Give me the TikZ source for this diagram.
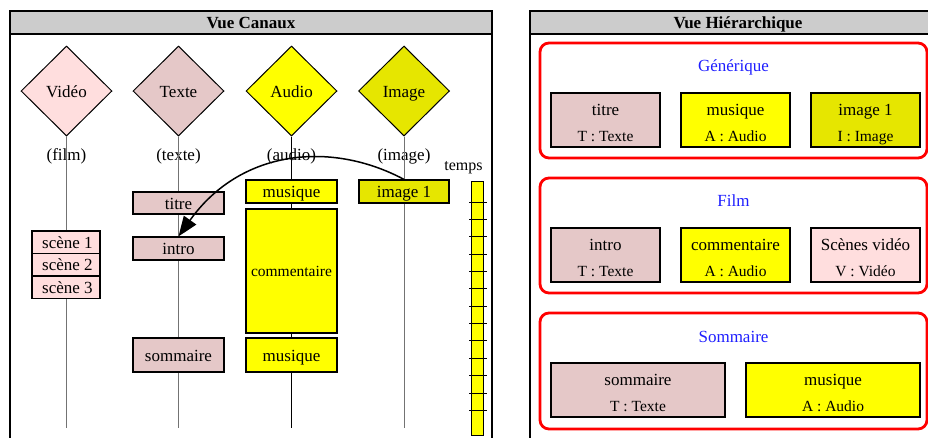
\documentclass[tikz,border=0pt]{standalone}
\usepackage{fontspec}
\setmainfont{Liberation Serif}
\usetikzlibrary{shapes.geometric,arrows.meta}
\definecolor{vidc}{RGB}{255,222,222}
\definecolor{txtc}{RGB}{229,200,200}
\definecolor{audc}{RGB}{255,255,0}
\definecolor{imgc}{RGB}{230,230,0}
\definecolor{hdrc}{RGB}{204,204,204}
\definecolor{linec}{RGB}{115,115,115}
\definecolor{titc}{RGB}{30,30,255}
\begin{document}
\begin{tikzpicture}[x=1pt,y=-1pt,
  font=\fontsize{17}{20}\selectfont,
  every node/.style={text height=14pt, text depth=2pt},
  chan/.style={diamond, draw=black, line width=1pt, inner sep=0pt, minimum width=91pt, minimum height=90pt},
  box/.style={rectangle, draw=black, line width=1.2pt, inner sep=0pt},
  lbox/.style={box, minimum width=91pt, minimum height=23pt},
  hbox/.style={box, minimum width=109pt, minimum height=54pt},
  wbox/.style={box, minimum width=174pt, minimum height=54pt},
  chanline/.style={draw=linec, line width=0.9pt},
  panel/.style={draw=black, line width=1.3pt},
  header/.style={fill=hdrc, draw=black, line width=1.3pt},
  redbox/.style={draw=red, line width=2.8pt, rounded corners=9pt},
  grp/.style={text=titc},
  small/.style={font=\fontsize{15.5}{18}\selectfont, text height=12.7pt, text depth=1.8pt},
  tick/.style={draw=black, line width=0.8pt}
]
\useasboundingbox (0,0) rectangle (928,437);
\clip (0,0) rectangle (928,437);

% ---------- Left panel ----------
\draw[panel] (10,11) rectangle (492,450);
\draw[header] (10,11) rectangle (492,34);
\node[font=\fontsize{17}{20}\selectfont\bfseries] (hcan) at (251,22.5) {Vue Canaux};

\node[chan, fill=vidc] (dv) at (66.5,91) {Vidéo};
\node[chan, fill=txtc] (dt) at (178.5,91) {Texte};
\node[chan, fill=audc] (da) at (291.5,91) {Audio};
\node[chan, fill=imgc] (di) at (404,91) {Image};

\node (lv) at (66.5,154) {(film)};
\node (lt) at (178.5,154) {(texte)};
\node (la) at (291.5,154) {(audio)};
\node (li) at (404,154) {(image)};

\coordinate (ev) at (66.5,428);
\coordinate (et) at (178.5,428);
\coordinate (ea) at (291.5,428);
\coordinate (ei) at (404,428);
\draw[chanline] (dv.south) -- (ev);
\draw[chanline] (dt.south) -- (et);
\draw[draw=black, line width=0.9pt] (da.south) -- (ea);
\draw[chanline] (di.south) -- (ei);

% Texte channel
\node[lbox, fill=txtc, minimum height=22pt] (ctitre) at (178.5,203) {titre};
\node[lbox, fill=txtc] (cintro) at (178.5,248.5) {intro};
\node[lbox, fill=txtc, minimum height=34pt] (csomm) at (178.5,355) {sommaire};
% Audio channel
\node[lbox, fill=audc] (cmus1) at (291.5,191.5) {musique};
\node[lbox, fill=audc, minimum height=124pt, small] (ccomm) at (291.5,271) {commentaire};
\node[lbox, fill=audc, minimum height=34pt] (cmus2) at (291.5,355) {musique};
% Image channel
\node[lbox, fill=imgc, minimum width=90pt] (cimg) at (404,191.5) {image 1};
% Video channel
\node[box, fill=vidc, minimum width=68pt, minimum height=22.5pt] (sc1) at (66,242.25) {\,scène 1};
\node[box, fill=vidc, minimum width=68pt, minimum height=22.5pt] (sc2) at (66,264.75) {\,scène 2};
\node[box, fill=vidc, minimum width=68pt, minimum height=22.5pt] (sc3) at (66,287.25) {\,scène 3};

% time bar
\node[font=\fontsize{16}{19}\selectfont] (ltemps) at (463.5,164) {temps};
\draw[fill=audc, draw=black, line width=0.9pt] (471,181) rectangle (483,435);
\foreach \k in {0,...,12} {
  \draw[tick] (469,202+17.36*\k) -- (487,202+17.36*\k);
}

% arrow
\draw[line width=1.5pt, -{Triangle[length=20pt,width=15pt]}]
  (cimg.north) .. controls (330,140) and (240,150) .. (cintro.north);

% ---------- Right panel ----------
\draw[panel] (530,11) rectangle (946,450);
\draw[header] (530,11) rectangle (946,34);
\node[font=\fontsize{17}{20}\selectfont\bfseries] (hhier) at (738,22.5) {Vue Hiérarchique};

\draw[redbox] (540,43) rectangle (927,158);
\draw[redbox] (540,178) rectangle (927,293);
\draw[redbox] (540,313) rectangle (927,429);

\node[grp] (ggen) at (733.5,65) {Générique};
\node[grp] (gfilm) at (733.5,200) {Film};
\node[grp] (gsomm) at (733.5,336) {Sommaire};

% row 1
\node[hbox, fill=txtc] (h11) at (605.5,120) {};
\node[hbox, fill=audc] (h12) at (735.5,120) {};
\node[hbox, fill=imgc] (h13) at (865.5,120) {};
% row 2
\node[hbox, fill=txtc] (h21) at (605.5,255) {};
\node[hbox, fill=audc] (h22) at (735.5,255) {};
\node[hbox, fill=vidc] (h23) at (865.5,255) {};
% row 3
\node[wbox, fill=txtc] (h31) at (638,390) {};
\node[wbox, fill=audc] (h32) at (833,390) {};

\foreach \n/\a/\b in {h11/titre/T : Texte, h12/musique/A : Audio, h13/image 1/I : Image,
                      h21/intro/T : Texte, h22/commentaire/A : Audio, h23/Scènes vidéo/V : Vidéo,
                      h31/sommaire/T : Texte, h32/musique/A : Audio} {
  \node (\n a) at ([yshift=-17pt]\n.north) {\a};
  \node[small] (\n b) at ([yshift=-44pt]\n.north) {\b};
}
\end{tikzpicture}
\end{document}
